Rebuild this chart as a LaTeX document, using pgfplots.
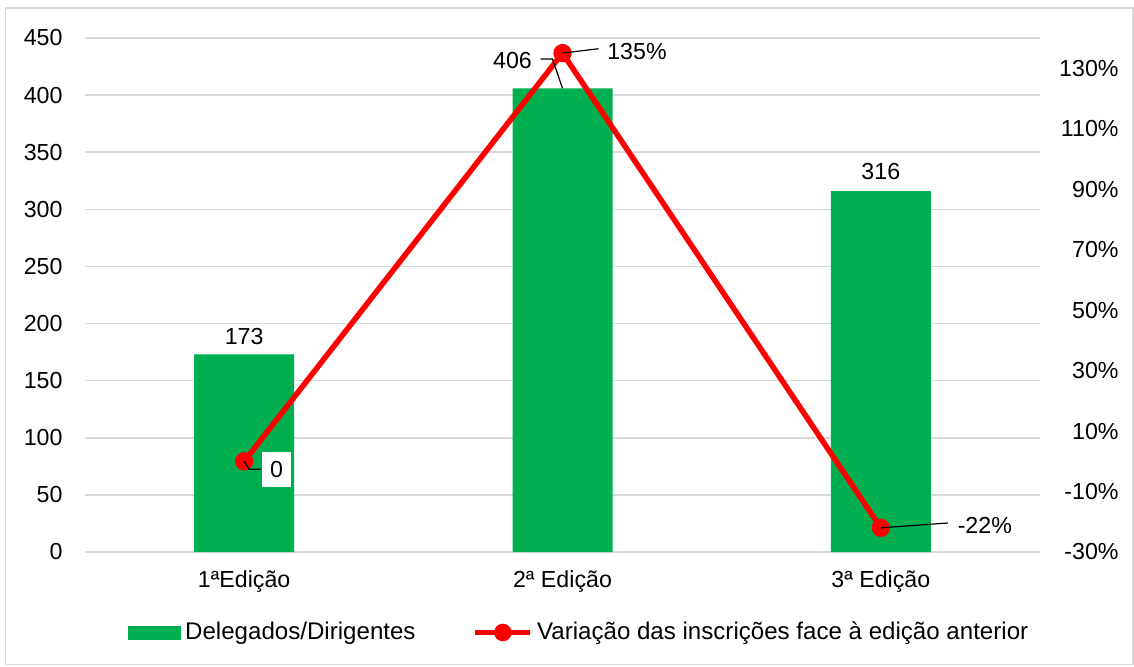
\documentclass[border=0pt]{standalone}
\usepackage{fontspec}
\setmainfont{Liberation Sans}
\usepackage{pgfplots}
\pgfplotsset{compat=1.18}

\definecolor{barGreen}{RGB}{0,176,80}
\definecolor{gridGray}{RGB}{217,217,217}

\begin{document}
\begin{tikzpicture}[font=\fontsize{11.6}{13.9}\selectfont]
% page size and outer frame
\path (-42.5pt,-57pt) rectangle (524.5pt,276pt);
\draw[gridGray, line width=0.75pt] (-39.75pt,-56.25pt) rectangle (524pt,272pt);

\begin{axis}[
  at={(0pt,0pt)}, anchor=south west,
  width=477.5pt, height=257pt, scale only axis,
  xmin=-0.5, xmax=2.5,
  ymin=0, ymax=450,
  xtick={0,1,2},
  xticklabels={1ªEdição, 2ª Edição, 3ª Edição},
  ytick={0,50,...,450},
  axis line style={draw=none},
  major tick length=0pt,
  ymajorgrids,
  grid style={gridGray, line width=0.75pt},
  tick label style={font=\fontsize{11.6}{13.9}\selectfont},
  yticklabel style={xshift=-7.7pt},
  xticklabel style={yshift=-6pt},
  /pgf/number format/assume math mode=true,
  ybar, bar width=50pt,
]
\addplot[fill=barGreen, draw=none] coordinates {(0,173) (1,406) (2,316)};
\coordinate (b1) at (axis cs:0,173);
\coordinate (b2) at (axis cs:1,406);
\coordinate (b3) at (axis cs:2,316);
\end{axis}

\begin{axis}[
  at={(0pt,0pt)}, anchor=south west,
  width=477.5pt, height=257pt, scale only axis,
  xmin=-0.5, xmax=2.5,
  ymin=-30, ymax=140,
  axis x line=none,
  axis y line*=right,
  axis line style={draw=none},
  major tick length=0pt,
  ytick={-30,-10,...,130},
  yticklabel={\pgfmathprintnumber{\tick}\%},
  yticklabel style={anchor=east, xshift=42.8pt},
  tick label style={font=\fontsize{11.6}{13.9}\selectfont},
  /pgf/number format/assume math mode=true,
  legend columns=2,
  legend cell align=left,
  legend style={
    at={(0.045,-0.1566)}, anchor=west,
    draw=none, fill=none, inner sep=0pt,
    font=\fontsize{12.05}{14.4}\selectfont,
    /tikz/every even column/.append style={column sep=26.5pt},
  },
]
\addlegendimage{legend image code/.code={\fill[barGreen] (0pt,-3.25pt) rectangle (26pt,3.25pt);}}
\addlegendentry{Delegados/Dirigentes}
\addplot[red, line width=2.75pt, mark=*, mark size=3.2pt, mark options={solid},
  legend image code/.code={\draw[red, line width=2.75pt] (0pt,0pt) -- (27.5pt,0pt);
    \fill[red] (13.75pt,0pt) circle (3pt);}]
  coordinates {(0,0) (1,135) (2,-22)};
\addlegendentry{Variação das inscrições face à edição anterior}
\coordinate (p1) at (axis cs:0,0);
\coordinate (p2) at (axis cs:1,135);
\coordinate (p3) at (axis cs:2,-22);
\end{axis}

% data labels
\node at ([yshift=8.7pt]b1) {173};
\node at ([yshift=10pt]b3) {316};
\node at ([xshift=-25pt,yshift=13.8pt]b2) {406};
\draw[black, line width=0.6pt] ([xshift=-11pt,yshift=14.6pt]b2) -- ([xshift=-5pt,yshift=14.6pt]b2) -- (b2);

\draw[black, line width=0.6pt] (p1) -- ++(2.5pt,-4pt) -- ++(6pt,0pt);
\node[fill=white, minimum width=14.6pt, minimum height=17.6pt, inner sep=0pt] at ([xshift=16.2pt,yshift=-4pt]p1) {0};

\draw[black, line width=0.6pt] (p2) -- ++(18pt,2.2pt);
\node at ([xshift=37.25pt,yshift=1pt]p2) {135\%};

\draw[black, line width=0.6pt] (p3) -- ++(33.5pt,2.4pt);
\node at ([xshift=52pt,yshift=1.4pt]p3) {-22\%};
\end{tikzpicture}
\end{document}
